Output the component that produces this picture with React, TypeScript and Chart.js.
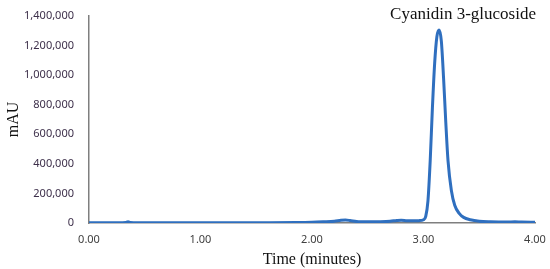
import React, { useEffect, useRef } from "react";
import { Chart, registerables } from "chart.js";

Chart.register(...registerables);

const times = [0, 0.3, 0.33, 0.35, 0.37, 0.4, 0.8, 1.2, 1.6, 1.85, 2.0, 2.1, 2.2, 2.26, 2.3, 2.34, 2.4, 2.5, 2.6, 2.7, 2.76, 2.8, 2.85, 2.9, 2.96, 3.0, 3.02, 3.04, 3.06, 3.08, 3.1, 3.12, 3.14, 3.16, 3.18, 3.2, 3.22, 3.25, 3.28, 3.32, 3.36, 3.42, 3.5, 3.6, 3.75, 3.82, 3.88, 4.0];
const signal = [2000, 2000, 3000, 9000, 3000, 2000, 2000, 2000, 2000, 3000, 5000, 8000, 12000, 18000, 20000, 17000, 10000, 8000, 9000, 12000, 17000, 19000, 16000, 15000, 16000, 22000, 45000, 150000, 420000, 780000, 1080000, 1260000, 1305000, 1230000, 980000, 680000, 420000, 220000, 120000, 65000, 38000, 22000, 12000, 8000, 6000, 9000, 6000, 5000];

const yTicks = [0, 200000, 400000, 600000, 800000, 1000000, 1200000, 1400000];
const xTicks = [0, 1, 2, 3, 4];
const peakLabel = "Cyanidin 3-glucoside";

export default function App() {
  const ref = useRef<HTMLCanvasElement>(null);
  useEffect(() => {
    if (!ref.current) return;
    const labelPlugin = {
      id: "peakLabel",
      afterDraw(chart: any) {
        const ctx = chart.ctx;
        ctx.save();
        ctx.font = '17px "Liberation Serif", serif';
        ctx.fillStyle = "#111";
        ctx.textAlign = "center";
        ctx.textBaseline = "middle";
        ctx.fillText(peakLabel, 463, 15);
        ctx.restore();
      },
    };
    const chart = new Chart(ref.current, {
      type: "line",
      data: {
        datasets: [
          {
            data: times.map((t, i) => ({ x: t, y: signal[i] })),
            borderColor: "#2f6fbf",
            borderWidth: 3,
            pointRadius: 0,
            tension: 0.4,
            cubicInterpolationMode: "monotone",
            fill: false,
          },
        ],
      },
      options: {
        animation: false,
        responsive: false,
        layout: { padding: { left: 4, right: 15, top: 16, bottom: 0 } },
        plugins: { legend: { display: false }, tooltip: { enabled: false } },
        scales: {
          x: {
            type: "linear",
            min: 0,
            max: 4,
            afterBuildTicks: (s: any) => {
              s.ticks = xTicks.map((v) => ({ value: v }));
            },
            afterFit: (s: any) => {
              s.height = 46;
              s.paddingLeft = 0;
              s.paddingRight = 0;
            },
            grid: { display: false, drawTicks: false },
            border: { display: true, color: "#7f7f7f", width: 1.5 },
            ticks: {
              padding: 10,
              color: "#404040",
              font: { family: "Noto Sans", size: 11 },
              callback: (v: any) => Number(v).toFixed(2),
            },
            title: {
              display: true,
              text: "Time (minutes)",
              color: "#111",
              padding: { top: 0, bottom: 0 },
              font: { family: "Liberation Serif", size: 16 },
            },
          },
          y: {
            min: 0,
            max: 1400000,
            afterBuildTicks: (s: any) => {
              s.ticks = yTicks.map((v) => ({ value: v }));
            },
            afterFit: (s: any) => {
              s.width = 85;
              s.paddingTop = 0;
              s.paddingBottom = 0;
            },
            grid: { display: false, drawTicks: false },
            border: { display: true, color: "#7f7f7f", width: 1.5 },
            ticks: {
              padding: 15,
              color: "#3d2f4a",
              font: { family: "Noto Sans", size: 11 },
              callback: (v: any) => Number(v).toLocaleString("en-US"),
            },
            title: {
              display: true,
              text: "mAU",
              color: "#111",
              padding: { top: 0, bottom: 2 },
              font: { family: "Liberation Serif", size: 16 },
            },
          },
        },
      },
      plugins: [labelPlugin],
    } as any);
    return () => chart.destroy();
  }, []);
  return (
    <div style={{ position: "fixed", left: 0, top: 0, width: 550, height: 269, background: "#fff" }}>
      <canvas ref={ref} width={550} height={269} />
    </div>
  );
}
